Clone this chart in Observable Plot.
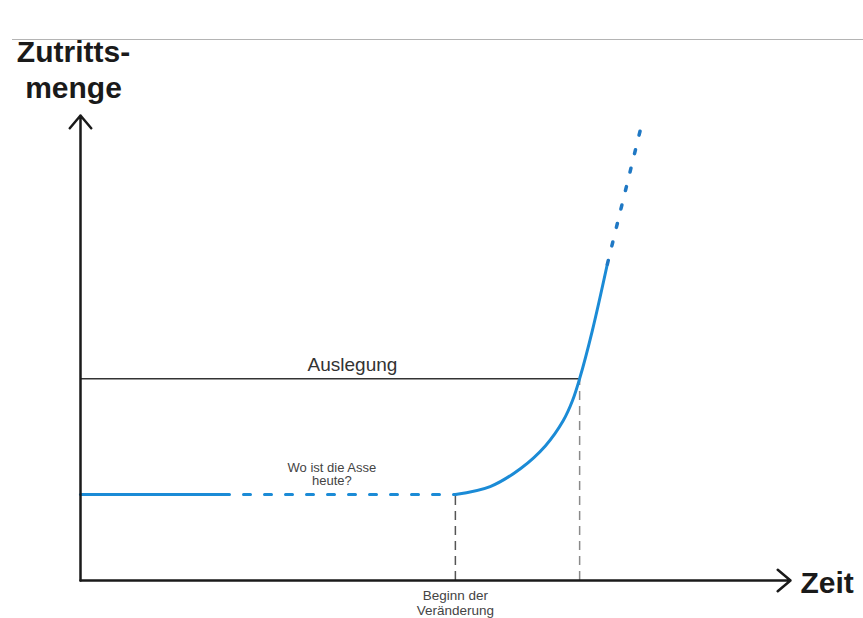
<!DOCTYPE html>
<html>
<head>
<meta charset="utf-8">
<script src="https://cdn.jsdelivr.net/npm/d3@7"></script>
<script src="https://cdn.jsdelivr.net/npm/@observablehq/plot@0.6"></script>
<style>
  html, body { margin: 0; padding: 0; background: #fff; }
  #wrap { position: relative; width: 863px; height: 618px; overflow: hidden; }
  #topline { position: absolute; top: 39px; left: 12px; right: 0; border-top: 1.5px solid #b4b4b4; }
  #chart { position: absolute; top: 0; left: 0; }
</style>
</head>
<body>
<div id="wrap"><div id="chart"></div><div id="topline"></div></div>
<script>
// ---- data (time units 0..100, amount units 0..100) ----
const baseLevel = 18.5;          // Zutrittsmenge vor der Veränderung
const designLevel = 43.4;        // "Auslegung"
const changeStart = 52.8;        // "Beginn der Veränderung"
const designCross = 70.3;        // Kurve erreicht Auslegung
const flatSolid = [{t: 0, a: 18.5}, {t: 20, a: 18.5}];
const flatDashed = [{t: 20, a: 18.5}, {t: 52.8, a: 18.5}];
const riseT = [52.8, 57.7, 62.0, 65.5, 68.0, 69.3, 70.3, 72.1, 74.2];
const riseA = [18.5, 20.2, 24.1, 29.0, 34.4, 38.7, 43.4, 53.8, 68.0];
const riseDashed = [{t: 74.2, a: 68.0}, {t: 78.9, a: 97.2}];
const axes = [
  {x1: 0, y1: 0, x2: 100, y2: 0},
  {x1: 0, y1: 0, x2: 0, y2: 100}
];
const labels = {
  yTitle: "Zutritts-\nmenge",
  xTitle: "Zeit",
  design: "Auslegung",
  today: "Wo ist die Asse\nheute?",
  start: "Beginn der\nVeränderung"
};

const rise = riseT.map((t, i) => ({t, a: riseA[i]}));
const blue = "#1b8bd6";
const font = "Liberation Sans, Arial, Helvetica, sans-serif";

const plot = Plot.plot({
  width: 863,
  height: 618,
  marginLeft: 80,
  marginRight: 73,
  marginTop: 115,
  marginBottom: 38,
  x: {domain: [0, 100], axis: null},
  y: {domain: [0, 100], axis: null},
  style: {fontFamily: font, background: "transparent", overflow: "visible"},
  marks: [
    // reference lines
    Plot.ruleY([designLevel], {x1: 0, x2: designCross, stroke: "#333", strokeWidth: 1.5}),
    Plot.ruleX([changeStart], {y1: 0, y2: baseLevel, stroke: "#555", strokeWidth: 1.5, strokeDasharray: "9,6"}),
    Plot.ruleX([designCross], {y1: 0, y2: designLevel, stroke: "#8a8a8a", strokeWidth: 1.5, strokeDasharray: "9,6"}),
    // blue curve
    Plot.line(flatSolid, {x: "t", y: "a", stroke: blue, strokeWidth: 3}),
    Plot.line(flatDashed, {x: "t", y: "a", stroke: blue, strokeWidth: 3, strokeDasharray: "7,14"}),
    Plot.line(rise, {x: "t", y: "a", stroke: blue, strokeWidth: 3, curve: "catmull-rom"}),
    Plot.line(riseDashed, {x: "t", y: "a", stroke: "#1f78c4", strokeWidth: 3.5, strokeDasharray: "4,15"}),
    // axes with arrows
    Plot.arrow(axes, {x1: "x1", y1: "y1", x2: "x2", y2: "y2", stroke: "#1a1a1a", strokeWidth: 2.5, headLength: 10, headAngle: 80}),
    // labels
    Plot.text([labels.yTitle], {x: 0, y: 100, text: d => d, textAnchor: "middle", lineAnchor: "bottom", dx: -7, dy: -18, fontSize: 30, fontWeight: "bold", lineHeight: 1.17, fill: "#1a1a1a"}),
    Plot.text([labels.xTitle], {x: 100, y: 0, text: d => d, textAnchor: "start", lineAnchor: "middle", dx: 10, dy: 3, fontSize: 30, fontWeight: "bold", fill: "#1a1a1a"}),
    Plot.text([labels.design], {x: 38.3, y: designLevel, text: d => d, lineAnchor: "bottom", dy: -8, fontSize: 19, fill: "#333"}),
    Plot.text([labels.today], {x: 35.4, y: baseLevel, text: d => d, lineAnchor: "bottom", dy: -9, fontSize: 13, lineHeight: 1.05, fill: "#444"}),
    Plot.text([labels.start], {x: changeStart, y: 0, text: d => d, lineAnchor: "top", dy: 9, fontSize: 13.5, lineHeight: 1.12, fill: "#444"})
  ]
});
document.getElementById("chart").appendChild(plot);
</script>
</body>
</html>
